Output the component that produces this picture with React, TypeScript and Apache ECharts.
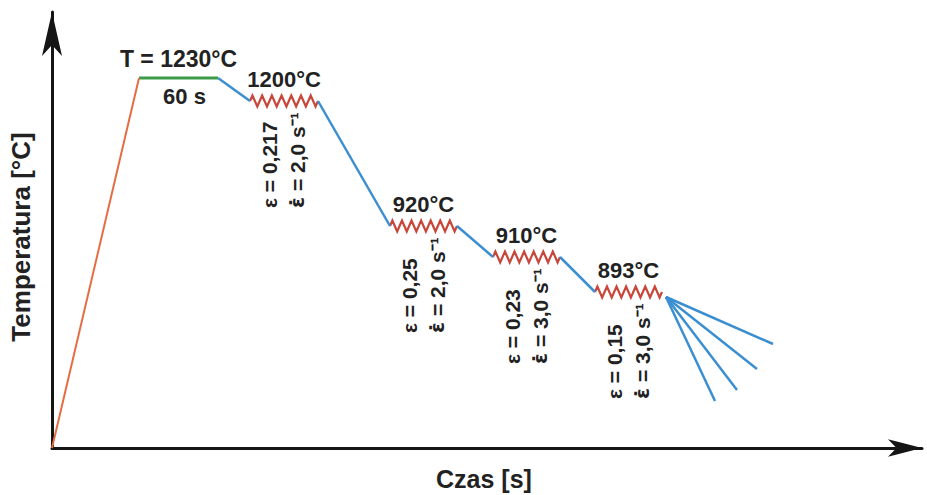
import { useEffect, useRef } from 'react';
import * as echarts from 'echarts';

// schematic units (time / temperature, arbitrary)
const heatingX = [0, 87];
const heatingY = [0, 370];
const holdX = [87, 166];
const holdY = 370;
const holdTempLabel = 'T = 1230°C';
const holdTimeLabel = '60 s';

const passStart = [198, 338, 441, 543];
const passEnd = [266, 405, 508, 610];
const passTemp = [347, 222, 191, 156];
const passLabel = ['1200°C', '920°C', '910°C', '893°C'];
const passStrain = ['0,217', '0,25', '0,23', '0,15'];
const passRate = ['2,0', '2,0', '3,0', '3,0'];

const coolOrigin = [614, 151];
const coolEndX = [721, 705, 685, 663];
const coolEndY = [104, 79, 58, 47];

const xTitle = 'Czas [s]';
const yTitle = 'Temperatura [°C]';

const ORANGE = '#e56d45';
const GREEN = '#3c9b48';
const BLUE = '#3b8fd1';
const RED = '#c9473a';
const TEXT = '#222222';
const FONT = '"Liberation Sans", Arial, sans-serif';

export default function App() {
  const ref = useRef<HTMLDivElement>(null);
  useEffect(() => {
    if (!ref.current) return;
    const chart = echarts.init(ref.current, null, { renderer: 'svg' });

    const transfers: number[][][] = [];
    transfers.push([[holdX[1], holdY], [passStart[0], passTemp[0]]]);
    for (let i = 0; i < passStart.length - 1; i++) {
      transfers.push([[passEnd[i], passTemp[i]], [passStart[i + 1], passTemp[i + 1]]]);
    }

    const textStyle = (size: number) => ({
      fill: TEXT,
      fontSize: size,
      fontWeight: 'bold' as const,
      fontFamily: FONT,
    });

    const series: any[] = [];
    series.push({
      type: 'line',
      data: heatingX.map((x, i) => [x, heatingY[i]]),
      showSymbol: false,
      lineStyle: { color: ORANGE, width: 2 },
    });
    transfers.forEach((seg) => {
      series.push({
        type: 'line',
        data: seg,
        showSymbol: false,
        lineStyle: { color: BLUE, width: 2.5 },
      });
    });
    coolEndX.forEach((x, i) => {
      series.push({
        type: 'line',
        data: [coolOrigin, [x, coolEndY[i]]],
        showSymbol: false,
        lineStyle: { color: BLUE, width: 2.5 },
      });
    });
    series.push({
      type: 'custom',
      data: [[holdX[0], holdX[1], holdY]],
      encode: { x: [0, 1], y: 2 },
      renderItem: (_params: any, api: any) => {
        const p1 = api.coord([api.value(0), api.value(2)]);
        const p2 = api.coord([api.value(1), api.value(2)]);
        const cx = (p1[0] + p2[0]) / 2;
        return {
          type: 'group',
          children: [
            {
              type: 'line',
              shape: { x1: p1[0], y1: p1[1], x2: p2[0], y2: p2[1] },
              style: { stroke: GREEN, lineWidth: 3 },
            },
            {
              type: 'text',
              x: cx,
              y: p1[1] - 19,
              style: { ...textStyle(23), text: holdTempLabel, align: 'center', verticalAlign: 'middle' },
            },
            {
              type: 'text',
              x: cx + 6,
              y: p1[1] + 18,
              style: { ...textStyle(22), text: holdTimeLabel, align: 'center', verticalAlign: 'middle' },
            },
          ],
        };
      },
    });
    series.push({
      type: 'custom',
      data: passStart.map((s, i) => [s, passEnd[i], passTemp[i]]),
      encode: { x: [0, 1], y: 2 },
      renderItem: (params: any, api: any) => {
        const i = params.dataIndex;
        const p1 = api.coord([api.value(0), api.value(2)]);
        const p2 = api.coord([api.value(1), api.value(2)]);
        const teeth = 7;
        const amp = 5.5;
        const per = (p2[0] - p1[0]) / teeth;
        const pts: number[][] = [[p1[0], p1[1]]];
        for (let k = 0; k < teeth; k++) {
          pts.push([p1[0] + per * (k + 0.25), p1[1] - amp]);
          pts.push([p1[0] + per * (k + 0.75), p1[1] + amp]);
        }
        pts.push([p2[0], p2[1]]);
        return {
          type: 'group',
          children: [
            {
              type: 'polyline',
              shape: { points: pts },
              style: { stroke: RED, lineWidth: 2.2, fill: null },
            },
            {
              type: 'text',
              x: (p1[0] + p2[0]) / 2,
              y: p1[1] - 22,
              style: { ...textStyle(22), text: passLabel[i], align: 'center', verticalAlign: 'middle' },
            },
            {
              type: 'text',
              x: p1[0] + 19,
              y: p1[1] + 107,
              rotation: Math.PI / 2,
              style: { ...textStyle(21), text: 'ε = ' + passStrain[i], align: 'left', verticalAlign: 'middle' },
            },
            {
              type: 'text',
              x: p1[0] + 47,
              y: p1[1] + 107,
              rotation: Math.PI / 2,
              style: {
                ...textStyle(21),
                text: '{e|ε̇}{t| = ' + passRate[i] + ' s⁻¹}',
                align: 'left',
                verticalAlign: 'middle',
                rich: {
                  e: { fontFamily: '"DejaVu Sans"', fontWeight: 'bold', fontSize: 20, fill: TEXT },
                  t: { fontFamily: FONT, fontWeight: 'bold', fontSize: 21, fill: TEXT },
                },
              },
            },
          ],
        };
      },
    });

    chart.setOption({
      animation: false,
      backgroundColor: '#ffffff',
      grid: { left: 52, right: 5, top: 12, bottom: 47, containLabel: false, outerBoundsMode: 'none' },
      xAxis: {
        type: 'value',
        min: 0,
        max: 870,
        name: xTitle,
        nameLocation: 'middle',
        nameGap: 18,
        nameTextStyle: { color: TEXT, fontSize: 25, fontWeight: 'bold', fontFamily: FONT, padding: [0, 6, 0, 0] },
        axisLine: {
          show: true,
          onZero: false,
          symbol: ['none', 'arrow'],
          symbolSize: [13, 34],
          lineStyle: { color: '#151515', width: 3 },
        },
        axisTick: { show: false },
        axisLabel: { show: false },
        splitLine: { show: false },
      },
      yAxis: {
        type: 'value',
        min: 0,
        max: 436,
        name: yTitle,
        nameLocation: 'middle',
        nameGap: 18,
        nameTextStyle: { color: TEXT, fontSize: 26, fontWeight: 'bold', fontFamily: FONT, padding: [0, 14, 0, 0] },
        axisLine: {
          show: true,
          onZero: false,
          symbol: ['none', 'arrow'],
          symbolSize: [15, 44],
          lineStyle: { color: '#151515', width: 3 },
        },
        axisTick: { show: false },
        axisLabel: { show: false },
        splitLine: { show: false },
      },
      series,
    });
    return () => chart.dispose();
  }, []);
  return <div ref={ref} style={{ width: 927, height: 495, position: 'fixed', left: 0, top: 0 }} />;
}
